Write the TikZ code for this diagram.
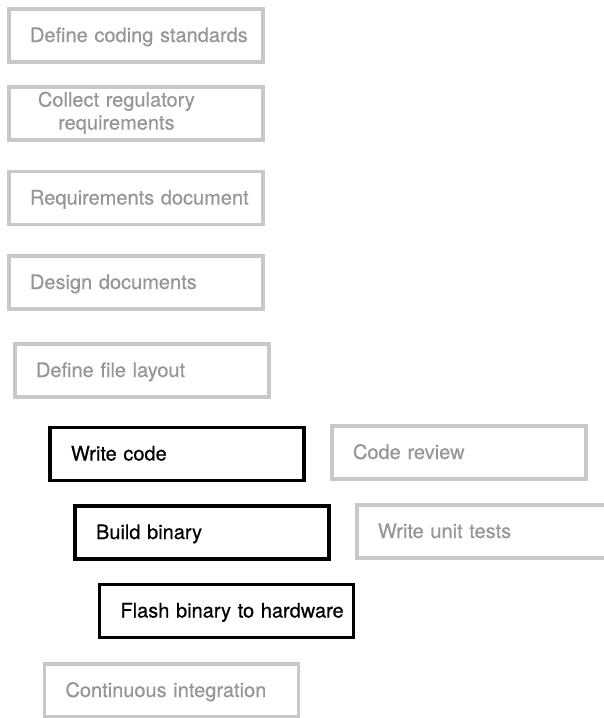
\documentclass[tikz,border=0pt]{standalone}
\usepackage{fontspec}
\setmainfont{TeX Gyre Heros}[FakeBold=0.5]
\definecolor{boxgray}{RGB}{200,200,200}
\definecolor{textgray}{RGB}{150,150,150}

\begin{document}
\begin{tikzpicture}
  [
  x=1pt, y=-1pt,
  font=\fontsize{20}{23}\selectfont, line width=3.6pt,
  task/.style={rectangle, draw=boxgray, text=textgray, minimum width=254pt, minimum height=53pt,
    text width=212pt, inner xsep=21pt, inner ysep=0pt, text height=17pt, text depth=4pt,
    execute at begin node=\hbox\bgroup, execute at end node=\egroup},
  current/.style={task, draw=black, text=black}
  ]

\useasboundingbox (0,0) rectangle (603,718);

\node[task] (standards) at (136,35.5) {Define coding standards};
\node[task, text height=, text depth=] (regulatory) at (136,113.5)
  {\hspace*{8pt}\begin{tabular}{@{}c@{}}Collect regulatory\\requirements\end{tabular}};
\node[task] (reqdoc) at (136,198) {Requirements document};
\node[task] (design) at (136,282.5) {Design documents};
\node[task] (layout) at (142,370.5) {Define file layout};

\node[current] (write) at (177,454) {Write code};
\node[task] (review) at (459,452.5) {Code review};
\node[current] (build) at (202,532.5) {Build binary};
\node[task] (unittests) at (484,531.5) {Write unit tests};
\node[current] (flash) at (226.5,611) {Flash binary to hardware};

\node[task] (ci) at (171.5,690.5) {Continuous integration};

\end{tikzpicture}
\end{document}
